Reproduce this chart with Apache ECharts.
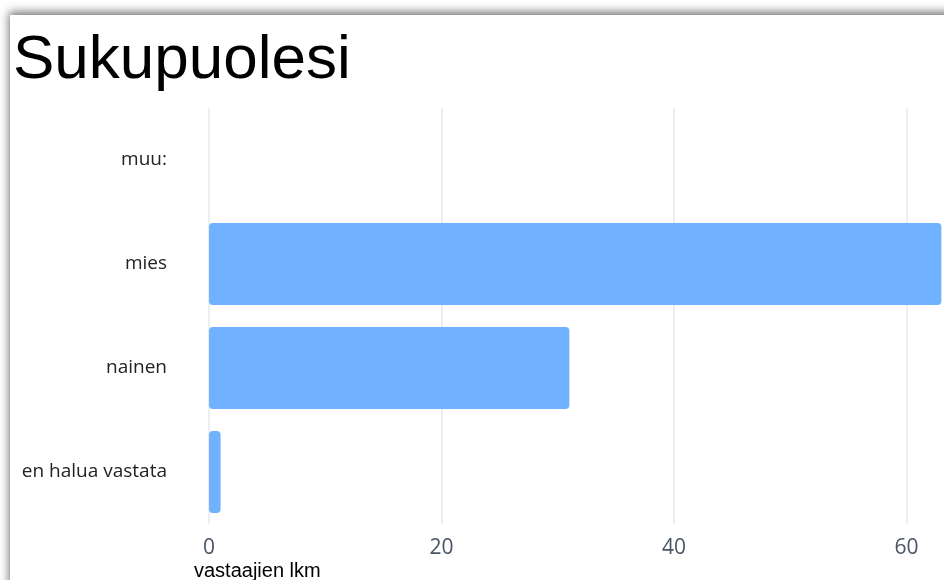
<!DOCTYPE html>
<html>
<head>
<meta charset="utf-8">
<script src="https://cdn.jsdelivr.net/npm/echarts@6/dist/echarts.min.js"></script>
<style>
html,body{margin:0;padding:0;width:944px;height:580px;overflow:hidden;background:#fff;position:relative;}
#card{position:absolute;left:10px;top:15px;width:1100px;height:700px;background:#fff;box-shadow:-1px -3px 9px rgba(0,0,0,0.55);}
#chart{position:absolute;left:0;top:0;width:1150px;height:580px;}
</style>
</head>
<body>
<div id="card"></div>
<div id="chart"></div>
<script>
var titleText = "Sukupuolesi";
var categories = ["en halua vastata", "nainen", "mies", "muu:"];
var counts = [1, 31, 63, 0];
var xTicks = [0, 20, 40, 60, 80];
var axisName = "vastaajien lkm";

var chart = echarts.init(document.getElementById('chart'), null, {renderer: 'canvas'});
chart.setOption({
  backgroundColor: 'transparent',
  animation: false,
  title: {
    text: titleText,
    left: 13, top: 30, padding: 0,
    textStyle: {fontFamily: 'Liberation Sans, Arial, sans-serif', fontSize: 62, fontWeight: 'normal', color: '#000', lineHeight: 62}
  },
  grid: {left: 209, top: 108, bottom: 56, right: 11, containLabel: false, outerBoundsMode: 'none'},
  xAxis: {
    type: 'value',
    min: xTicks[0], max: xTicks[xTicks.length - 1], interval: xTicks[1] - xTicks[0],
    axisLine: {show: false},
    axisTick: {show: false},
    splitLine: {show: true, lineStyle: {color: '#e6eaee', width: 1.5}},
    axisLabel: {margin: 14, fontFamily: 'Open Sans, sans-serif', fontSize: 21, color: '#4a5565'}
  },
  yAxis: {
    type: 'category',
    data: categories,
    axisLine: {show: false},
    axisTick: {show: false},
    axisLabel: {margin: 42, padding: [4, 0, 0, 0], fontFamily: 'Open Sans, sans-serif', fontSize: 19, color: '#222'}
  },
  graphic: [{
    type: 'text', left: 194, top: 561,
    style: {text: axisName, fontFamily: 'Liberation Sans, Arial, sans-serif', fontSize: 20, fill: '#000'}
  }],
  series: [{
    type: 'bar',
    data: counts,
    barCategoryGap: '21%',
    itemStyle: {color: '#70b2ff', borderRadius: 4}
  }]
});
</script>
</body>
</html>
